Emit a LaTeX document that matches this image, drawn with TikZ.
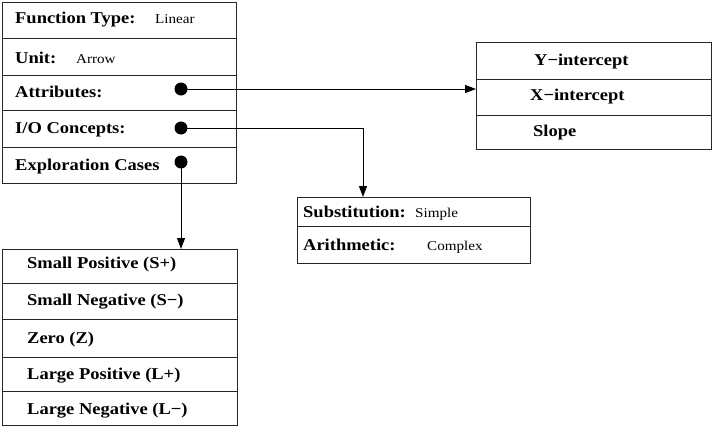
\documentclass[tikz,border=0pt]{standalone}
\usepackage{fontspec}
\setmainfont{Liberation Serif}[FakeStretch=1.12]
\usetikzlibrary{arrows.meta}
\tikzset{
  boxframe/.style={draw=black!85, line width=1pt, fill=none, inner sep=0pt, anchor=north west},
  rowline/.style={draw=black!85, line width=1pt},
  lab/.style={anchor=base west, inner sep=0pt, font=\fontsize{16.5}{19}\selectfont\bfseries},
  val/.style={anchor=base west, inner sep=0pt, font=\fontsize{13.5}{16}\selectfont},
  dot/.style={circle, fill=black, minimum size=13pt, inner sep=0pt},
  link/.style={draw=black, line width=1pt, -{Triangle[length=11pt,width=8pt]}},
  plain/.style={draw=black, line width=1pt}
}
\begin{document}
\begin{tikzpicture}[x=1pt,y=-1pt]
\useasboundingbox (0,0) rectangle (713,426);
% top-left box
\node[boxframe, minimum width=234pt, minimum height=181pt] (main) at (2,2) {};
\foreach \yy in {38,75,110,147} \draw[rowline] (main.west |- 0,\yy) -- (main.east |- 0,\yy);
\node[lab] (ft) at (15,23) {Function Type:};
\node[val] (ftv) at (155,23) {Linear};
\node[lab] (un) at (15,63) {Unit:};
\node[val] (unv) at (76,63) {Arrow};
\node[lab] (at) at (15,97) {Attributes:};
\node[lab] (io) at (15,133) {I/O Concepts:};
\node[lab] (ex) at (15,170) {Exploration Cases};
\node[dot] (dA) at (181,89) {};
\node[dot] (dI) at (181,128) {};
\node[dot] (dE) at (181,162) {};
% right box
\node[boxframe, minimum width=235pt, minimum height=107pt] (attr) at (476,42) {};
\foreach \yy in {79,115} \draw[rowline] (attr.west |- 0,\yy) -- (attr.east |- 0,\yy);
\node[lab] (yi) at (534,65) {Y−intercept};
\node[lab] (xi) at (530,100) {X−intercept};
\node[lab] (sl) at (533,136) {Slope};
% middle box
\node[boxframe, minimum width=233pt, minimum height=66pt] (conc) at (297,197) {};
\draw[rowline] (conc.west |- 0,226) -- (conc.east |- 0,226);
\node[lab] (su) at (303,217) {Substitution:};
\node[val] (suv) at (415,217) {Simple};
\node[lab] (ar) at (303,250) {Arithmetic:};
\node[val] (arv) at (427,250) {Complex};
\coordinate (concin) at (363,197);
% bottom box
\node[boxframe, minimum width=235pt, minimum height=176pt] (cases) at (2,249) {};
\foreach \yy in {283,319,357,391} \draw[rowline] (cases.west |- 0,\yy) -- (cases.east |- 0,\yy);
\node[lab] (c1) at (27,268) {Small Positive (S+)};
\node[lab] (c2) at (27,305) {Small Negative (S−)};
\node[lab] (c3) at (27,343) {Zero (Z)};
\node[lab] (c4) at (27,379) {Large Positive (L+)};
\node[lab] (c5) at (27,414) {Large Negative (L−)};
% connectors
\draw[link] (dA.center) -- (dA.center -| attr.west);
\draw[link] (dI.center) -| (concin);
\draw[link] (dE.center) -- (dE.center |- cases.north);
\end{tikzpicture}
\end{document}
